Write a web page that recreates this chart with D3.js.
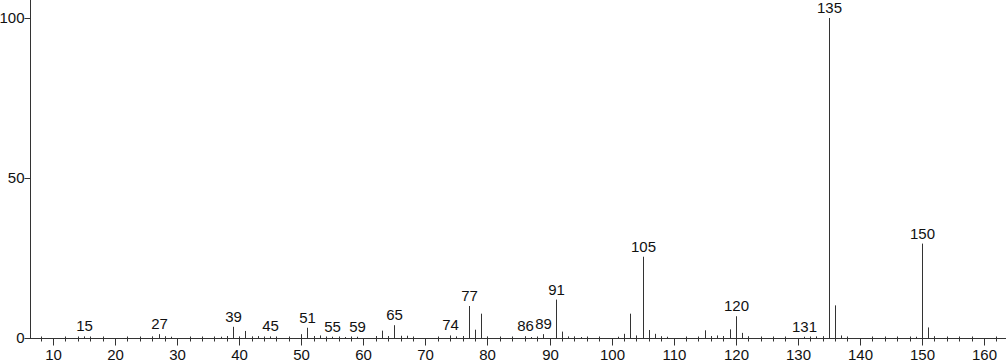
<!DOCTYPE html>
<html>
<head>
<meta charset="utf-8">
<script src="https://cdn.jsdelivr.net/npm/d3@7"></script>
<style>
  body { margin: 0; background: #fff; }
  svg { display: block; font-family: "Liberation Sans", Arial, sans-serif; }
</style>
</head>
<body>
<div id="vis"></div>
<script>
var width = 1007;
var height = 362;

// m/z and relative intensity
var mz = [15, 26, 27, 28, 29, 37, 38, 39, 40, 41, 42, 43, 45, 50, 51, 52, 53, 55, 57, 59,
  62, 63, 64, 65, 66, 67, 74, 75, 76, 77, 78, 79, 80, 86, 87, 89, 91, 92, 93, 94, 95,
  101, 102, 103, 104, 105, 106, 107, 108, 109, 115, 116, 117, 118, 119, 120, 121, 122,
  131, 133, 134, 135, 136, 137, 149, 150, 151, 152];
var intensity = [0.5, 0.4, 1.2, 0.5, 0.4, 0.4, 0.6, 3.5, 0.5, 2.2, 0.4, 0.6, 0.5, 1.2, 3.2, 0.6, 0.8, 0.4, 0.3, 0.4,
  0.6, 2.3, 0.6, 4.0, 0.7, 0.7, 0.8, 0.5, 0.6, 10.0, 2.6, 7.6, 0.5, 0.5, 0.3, 1.2, 12.0, 2.0, 0.5, 0.4, 0.3,
  0.4, 1.3, 7.6, 0.8, 25.4, 2.5, 1.3, 0.5, 0.4, 2.4, 0.6, 0.8, 0.6, 2.7, 6.8, 1.6, 0.5,
  0.4, 0.5, 0.5, 100, 10.2, 0.8, 0.4, 29.5, 3.3, 0.5];
var labelled = [15, 27, 39, 45, 51, 55, 59, 65, 74, 77, 86, 89, 91, 105, 120, 131, 135, 150];
var xTicks = [10, 20, 30, 40, 50, 60, 70, 80, 90, 100, 110, 120, 130, 140, 150, 160];
var yTicks = [0, 50, 100];

var peaks = mz.map((m, i) => ({m: m, v: intensity[i]}));

var x = d3.scaleLinear().domain([10, 160]).range([53, 984]);
var y = d3.scaleLinear().domain([0, 100]).range([338, 18]);
var x0 = 30, x1 = 1006, yBase = y(0);

var svg = d3.select("#vis").append("svg")
  .attr("width", width)
  .attr("height", height);

var ink = "#333";

// peaks
svg.append("g")
  .selectAll("line")
  .data(peaks)
  .enter()
  .append("line")
  .attr("x1", d => Math.round(x(d.m)) + 0.5)
  .attr("x2", d => Math.round(x(d.m)) + 0.5)
  .attr("y1", yBase)
  .attr("y2", d => y(d.v))
  .attr("stroke", ink)
  .attr("stroke-width", 1);

// peak labels
svg.append("g")
  .style("font-size", "15px")
  .attr("fill", "#111")
  .selectAll("text")
  .data(peaks.filter(d => labelled.includes(d.m)))
  .enter()
  .append("text")
  .attr("x", d => Math.round(x(d.m)) + 0.5)
  .attr("y", d => y(d.v) - 5)
  .attr("text-anchor", "middle")
  .text(d => d.m);

// x axis
var gx = svg.append("g").attr("transform", `translate(0,${yBase + 0.5})`);
gx.append("line").attr("x1", x0).attr("x2", x1).attr("stroke", ink);
var minor = d3.range(8, 164, 2).filter(v => v % 10 !== 0);
gx.selectAll("line.minor")
  .data(minor)
  .enter()
  .append("line")
  .attr("class", "minor")
  .attr("x1", d => Math.round(x(d)) + 0.5)
  .attr("x2", d => Math.round(x(d)) + 0.5)
  .attr("y1", -2)
  .attr("y2", 3)
  .attr("stroke", ink);
gx.selectAll("line.major")
  .data(xTicks)
  .enter()
  .append("line")
  .attr("class", "major")
  .attr("x1", d => Math.round(x(d)) + 0.5)
  .attr("x2", d => Math.round(x(d)) + 0.5)
  .attr("y1", 0)
  .attr("y2", 7)
  .attr("stroke", ink);
gx.selectAll("text")
  .data(xTicks)
  .enter()
  .append("text")
  .attr("x", d => Math.round(x(d)) + 0.5)
  .attr("y", 21)
  .attr("text-anchor", "middle")
  .style("font-size", "15px")
  .attr("fill", "#111")
  .text(d => d);

// y axis
var gy = svg.append("g").attr("transform", `translate(${x0 + 0.5},0)`);
gy.append("line").attr("y1", 0).attr("y2", yBase + 0.5).attr("stroke", ink);
gy.selectAll("line.tick")
  .data(yTicks)
  .enter()
  .append("line")
  .attr("class", "tick")
  .attr("x1", -6)
  .attr("x2", 0)
  .attr("y1", d => Math.round(y(d)) + 0.5)
  .attr("y2", d => Math.round(y(d)) + 0.5)
  .attr("stroke", ink);
gy.selectAll("text")
  .data(yTicks)
  .enter()
  .append("text")
  .attr("x", -6)
  .attr("y", d => y(d))
  .attr("dy", "0.35em")
  .attr("text-anchor", "end")
  .style("font-size", "15px")
  .attr("fill", "#111")
  .text(d => d);
</script>
</body>
</html>
